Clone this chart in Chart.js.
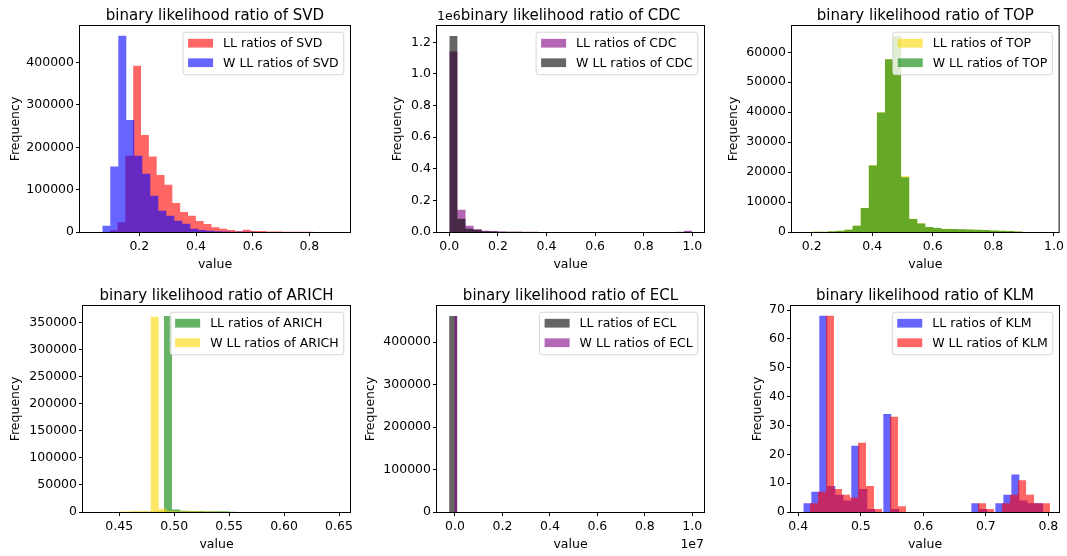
<!DOCTYPE html>
<html>
<head>
<meta charset="utf-8">
<script src="https://cdn.jsdelivr.net/npm/chart.js@4.4.0/dist/chart.umd.min.js"></script>
<style>
  html, body { margin: 0; padding: 0; background: #fff; overflow: hidden; }
  #wrap { position: relative; width: 1067px; height: 556px; }
  canvas { position: absolute; }
</style>
</head>
<body>
<div id="wrap">
  <canvas id="svd" width="357" height="280" style="left:0px;top:0px"></canvas>
  <canvas id="cdc" width="357" height="280" style="left:355px;top:0px"></canvas>
  <canvas id="top" width="357" height="280" style="left:710px;top:0px"></canvas>
  <canvas id="arich" width="357" height="280" style="left:0px;top:280px"></canvas>
  <canvas id="ecl" width="357" height="280" style="left:355px;top:280px"></canvas>
  <canvas id="klm" width="357" height="280" style="left:710px;top:280px"></canvas>
</div>
<script>
// ---- data (bin start, bin width, counts per bin) ----
const svdLLStart = 0.0954, svdLLWidth = 0.02764;
const svdLL = [4000, 23000, 180000, 392800, 229400, 178300, 134400, 111500, 68300, 47100,
  38400, 25900, 18900, 11000, 7800, 4700, 2400, 5400, 2400, 2400,
  1200, 900, 600, 500, 400, 300, 200, 150, 100, 100];
const svdWStart = 0.0693, svdWWidth = 0.02824;
const svdW = [15000, 154700, 463600, 264700, 180000, 137500, 85600, 50200, 38400, 26700,
  19600, 7900, 4700, 3100, 2000, 1200, 800, 500, 300, 200,
  150, 100, 80, 60, 50, 40, 30, 20, 10, 10];

const cdcStart = 0, cdcWidth = 1 / 30;
const cdcLL = [1141000, 141000, 40000, 19000, 8000, 6000, 3000, 2000, 1500, 1000,
  800, 600, 500, 400, 300, 300, 200, 200, 200, 200,
  200, 200, 200, 200, 300, 300, 400, 500, 800, 8000];
const cdcW = [1240000, 84000, 21000, 13000, 5000, 3000, 2000, 1000, 800, 600,
  500, 400, 300, 300, 200, 200, 200, 200, 200, 200,
  200, 200, 200, 200, 200, 200, 200, 200, 300, 2000];

const topStart = 0.175, topWidth = 0.0267;
const topLL = [30, 50, 110, 260, 420, 800, 2200, 8100, 22400, 40000,
  57600, 65500, 18700, 4400, 2900, 1700, 1350, 1050, 1000, 900,
  820, 760, 660, 520, 410, 300, 200, 30, 10, 10];
const topW = [30, 50, 100, 250, 400, 770, 2100, 8000, 22200, 39900,
  57700, 65400, 18300, 4300, 2800, 1670, 1330, 1000, 1000, 900,
  800, 750, 650, 500, 400, 300, 200, 20, 10, 10];

const arichLLStart = 0.4318, arichLLWidth = 0.00736;
const arichLL = [0, 0, 100, 200, 300, 400, 500, 700, 361600, 4500,
  2500, 2000, 1800, 1600, 1500, 1400, 600, 200, 100, 100,
  50, 50, 50, 20, 20, 20, 10, 10, 10, 10];
const arichWStart = 0.428, arichWWidth = 0.00724;
const arichW = [0, 0, 0, 1000, 1200, 1300, 1500, 360000, 6000, 2000,
  1500, 1300, 1200, 1000, 800, 600, 300, 200, 100, 100,
  50, 50, 20, 20, 20, 10, 10, 10, 10, 10];

const eclLLStart = -247000, eclLLWidth = 341000;
const eclLL = [461900, 0, 0, 0, 0, 0, 0, 0, 0, 0,
  0, 0, 0, 0, 0, 0, 0, 0, 0, 0,
  0, 0, 0, 0, 0, 0, 0, 0, 0, 1];
const eclWStart = -29500, eclWWidth = 113800;
const eclW = [461500, 0, 0, 0, 0, 0, 0, 0, 0, 0,
  0, 0, 0, 0, 0, 0, 0, 0, 0, 0,
  0, 0, 0, 0, 0, 0, 0, 0, 0, 1];

const klmLLStart = 0.408, klmLLWidth = 0.0128;
const klmLL = [3, 7, 68, 9, 6, 4, 23, 8, 1, 0, 34, 1, 0, 0, 0, 0, 0, 0, 0, 0,
  0, 3, 1, 0, 3, 6, 13, 4, 3, 3];
const klmWStart = 0.4187, klmWWidth = 0.0128;
const klmW = [3, 7, 68, 8, 6, 5, 24, 9, 1, 0, 33, 2, 0, 0, 0, 0, 0, 0, 0, 0,
  0, 3, 1, 0, 3, 6, 11, 6, 3, 3];

// tick positions
const ticks01 = [0.0, 0.2, 0.4, 0.6, 0.8, 1.0];
const svdXTicks = [0.2, 0.4, 0.6, 0.8];
const topXTicks = [0.2, 0.4, 0.6, 0.8, 1.0];
const arichXTicks = [0.45, 0.50, 0.55, 0.60, 0.65];
const eclXTicks = [0, 2e6, 4e6, 6e6, 8e6, 1e7];
const klmXTicks = [0.4, 0.5, 0.6, 0.7, 0.8];
const svdYTicks = [0, 100000, 200000, 300000, 400000];
const cdcYTicks = [0, 2e5, 4e5, 6e5, 8e5, 1e6, 1.2e6];
const topYTicks = [0, 10000, 20000, 30000, 40000, 50000, 60000];
const arichYTicks = [0, 50000, 100000, 150000, 200000, 250000, 300000, 350000];
const eclYTicks = [0, 100000, 200000, 300000, 400000];
const klmYTicks = [0, 10, 20, 30, 40, 50, 60, 70];

const RED = 'rgba(255,0,0,0.6)', BLUE = 'rgba(0,0,255,0.6)', PURPLE = 'rgba(128,0,128,0.6)',
      BLACK = 'rgba(0,0,0,0.6)', GOLD = 'rgba(255,215,0,0.6)', GREEN = 'rgba(0,128,0,0.6)';

const FONT = '"DejaVu Sans", sans-serif';
Chart.defaults.font.family = FONT;
Chart.defaults.font.size = 12.5;
Chart.defaults.color = '#000';

// histogram outline as step points: each bin value holds from its left edge to the next
function histPoints(start, width, counts) {
  const pts = counts.map((c, i) => ({ x: start + i * width, y: c }));
  pts.push({ x: start + counts.length * width, y: counts[counts.length - 1] });
  return pts;
}

// frame, title, legend box and offset texts the way matplotlib draws them
const mplDecor = {
  id: 'mplDecor',
  afterDatasetsDraw(chart, args, opts) {
    const ctx = chart.ctx, a = chart.chartArea;
    ctx.save();
    ctx.strokeStyle = '#000';
    ctx.lineWidth = 1;
    ctx.strokeRect(a.left - 0.5, a.top - 0.5, a.right - a.left + 1, a.bottom - a.top + 1);

    ctx.fillStyle = '#000';
    ctx.font = '15px ' + FONT;
    ctx.textAlign = 'center';
    ctx.textBaseline = 'alphabetic';
    ctx.fillText(opts.title, (a.left + a.right) / 2, a.top - 6);

    ctx.font = '12.5px ' + FONT;
    if (opts.yOffsetText) {
      ctx.textAlign = 'left';
      ctx.fillText(opts.yOffsetText, a.left, a.top - 6);
    }
    if (opts.xOffsetText) {
      ctx.textAlign = 'right';
      ctx.fillText(opts.xOffsetText, a.right, a.bottom + 36);
    }

    // legend
    const items = chart.data.datasets.map(d => ({ label: d.label, color: d.backgroundColor }));
    const tw = Math.max(...items.map(it => ctx.measureText(it.label).width));
    const w = 5 + 25 + 10 + tw + 5;
    const h = 42.5;
    const x = a.right - 6.25 - w, y = a.top + 6.25;
    ctx.beginPath();
    ctx.roundRect(x, y, w, h, 2.5);
    ctx.fillStyle = 'rgba(255,255,255,0.8)';
    ctx.fill();
    ctx.strokeStyle = 'rgba(204,204,204,0.8)';
    ctx.stroke();
    ctx.textAlign = 'left';
    ctx.textBaseline = 'middle';
    items.forEach((it, i) => {
      const cy = y + 11 + i * 19.5;
      ctx.fillStyle = it.color;
      ctx.fillRect(x + 5, cy - 4.4, 25, 8.75);
      ctx.fillStyle = '#000';
      ctx.fillText(it.label, x + 40, cy + 0.5);
    });
    ctx.restore();
  }
};

function axis(spec) {
  return {
    type: 'linear',
    min: spec.min,
    max: spec.max,
    afterFit: spec.fit,
    afterBuildTicks(s) { s.ticks = spec.ticks.map(v => ({ value: v })); },
    ticks: { callback: spec.fmt, padding: spec.pad, autoSkip: false, maxRotation: 0, color: '#000' },
    grid: { drawOnChartArea: false, drawTicks: true, tickLength: 4, color: '#000' },
    border: { display: false },
    title: { display: true, text: spec.title, padding: spec.titlePad, color: '#000' }
  };
}

function drawHist(id, spec) {
  new Chart(document.getElementById(id), {
    type: 'line',
    data: {
      datasets: spec.series.map((s, i) => ({
        label: s.label,
        data: histPoints(s.start, s.width, s.counts),
        backgroundColor: s.color,
        borderColor: 'rgba(0,0,0,0)',
        borderWidth: 0,
        pointRadius: 0,
        stepped: true,
        fill: 'origin',
        order: spec.series.length - i
      }))
    },
    options: {
      responsive: false,
      animation: false,
      events: [],
      layout: { padding: { left: 0, top: 26, right: spec.padRight, bottom: 0 } },
      plugins: {
        legend: { display: false },
        tooltip: { enabled: false },
        mplDecor: { title: spec.title, yOffsetText: spec.yOffsetText, xOffsetText: spec.xOffsetText }
      },
      scales: {
        x: axis({
          min: spec.xMin, max: spec.xMax, ticks: spec.xTicks, fmt: spec.xFmt, pad: 3,
          title: 'value', titlePad: { top: 0, bottom: 7.5 },
          fit(s) { s.height = 48; }
        }),
        y: axis({
          min: 0, max: spec.yMax, ticks: spec.yTicks, fmt: spec.yFmt, pad: 2,
          title: 'Frequency', titlePad: { top: spec.yTitlePad, bottom: 0 },
          fit(s) { s.width = spec.yWidth; }
        })
      }
    },
    plugins: [mplDecor]
  });
}

const f1 = v => v.toFixed(1);
const f2 = v => v.toFixed(2);
const fInt = v => String(v);

drawHist('svd', {
  title: 'binary likelihood ratio of SVD',
  series: [
    { label: 'LL ratios of SVD', start: svdLLStart, width: svdLLWidth, counts: svdLL, color: RED },
    { label: 'W LL ratios of SVD', start: svdWStart, width: svdWWidth, counts: svdW, color: BLUE }
  ],
  xMin: -0.0094, xMax: 0.9435, xTicks: svdXTicks, xFmt: f1,
  yMax: 486600, yTicks: svdYTicks, yFmt: fInt,
  yWidth: 80, padRight: 7, yTitlePad: 8.5
});

drawHist('cdc', {
  title: 'binary likelihood ratio of CDC',
  yOffsetText: '1e6',
  series: [
    { label: 'LL ratios of CDC', start: cdcStart, width: cdcWidth, counts: cdcLL, color: PURPLE },
    { label: 'W LL ratios of CDC', start: cdcStart, width: cdcWidth, counts: cdcW, color: BLACK }
  ],
  xMin: -0.0506, xMax: 1.048, xTicks: ticks01, xFmt: f1,
  yMax: 1303000, yTicks: cdcYTicks, yFmt: v => (v / 1e6).toFixed(1),
  yWidth: 82, padRight: 8, yTitlePad: 35
});

drawHist('top', {
  title: 'binary likelihood ratio of TOP',
  series: [
    { label: 'LL ratios of TOP', start: topStart, width: topWidth, counts: topLL, color: GOLD },
    { label: 'W LL ratios of TOP', start: topStart, width: topWidth, counts: topW, color: GREEN }
  ],
  xMin: 0.135, xMax: 1.0155, xTicks: topXTicks, xFmt: f1,
  yMax: 68770, yTicks: topYTicks, yFmt: fInt,
  yWidth: 82, padRight: 8, yTitlePad: 15.8
});

drawHist('arich', {
  title: 'binary likelihood ratio of ARICH',
  series: [
    { label: 'LL ratios of ARICH', start: arichLLStart, width: arichLLWidth, counts: arichLL, color: GREEN },
    { label: 'W LL ratios of ARICH', start: arichWStart, width: arichWWidth, counts: arichW, color: GOLD }
  ],
  xMin: 0.417, xMax: 0.660, xTicks: arichXTicks, xFmt: f2,
  yMax: 380000, yTicks: arichYTicks, yFmt: fInt,
  yWidth: 83, padRight: 7, yTitlePad: 8.5
});

drawHist('ecl', {
  title: 'binary likelihood ratio of ECL',
  xOffsetText: '1e7',
  series: [
    { label: 'LL ratios of ECL', start: eclLLStart, width: eclLLWidth, counts: eclLL, color: BLACK },
    { label: 'W LL ratios of ECL', start: eclWStart, width: eclWWidth, counts: eclW, color: PURPLE }
  ],
  xMin: -758000, xMax: 10493000, xTicks: eclXTicks, xFmt: v => (v / 1e7).toFixed(1),
  yMax: 485400, yTicks: eclYTicks, yFmt: fInt,
  yWidth: 82, padRight: 8, yTitlePad: 8.5
});

drawHist('klm', {
  title: 'binary likelihood ratio of KLM',
  series: [
    { label: 'LL ratios of KLM', start: klmLLStart, width: klmLLWidth, counts: klmLL, color: BLUE },
    { label: 'W LL ratios of KLM', start: klmWStart, width: klmWWidth, counts: klmW, color: RED }
  ],
  xMin: 0.3883, xMax: 0.817, xTicks: klmXTicks, xFmt: f1,
  yMax: 71.4, yTicks: klmYTicks, yFmt: fInt,
  yWidth: 81, padRight: 8, yTitlePad: 40
});
</script>
</body>
</html>
